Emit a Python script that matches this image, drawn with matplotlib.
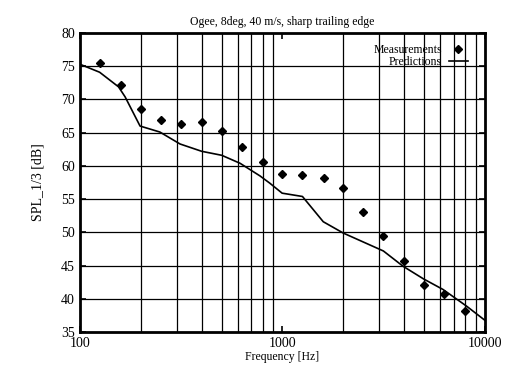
import numpy as np
import matplotlib
matplotlib.use("Agg")
from matplotlib import pyplot as plt
from matplotlib.ticker import FixedLocator, NullFormatter

plt.rcParams['font.family'] = ['Liberation Serif', 'DejaVu Serif']

# measured third-octave levels
meas_f = [125, 160, 200, 250, 315, 400, 500, 630, 800, 1000, 1250, 1600,
          2000, 2500, 3150, 4000, 5000, 6300, 8000]
meas_spl = [75.5, 72.2, 68.5, 66.9, 66.3, 66.6, 65.2, 62.8, 60.6, 58.8, 58.7,
            58.2, 56.7, 53.1, 49.4, 45.7, 42.1, 40.7, 38.2]

# predicted curve
pred_f = [100, 125, 155, 167, 198, 248, 312, 399, 501, 617, 774, 866, 996,
          1255, 1590, 1995, 3150, 3940, 4970, 6210, 8110, 9960]
pred_spl = [75.3, 74.1, 71.9, 70.4, 66.0, 65.1, 63.3, 62.2, 61.6, 60.4, 58.5,
            57.4, 55.9, 55.4, 51.6, 49.9, 47.2, 44.9, 43.0, 41.4, 38.9, 36.8]

fig = plt.figure(figsize=(5.15, 3.71), dpi=100)
ax = fig.add_axes([0.1553, 0.105, 0.7864, 0.806])

ax.plot(pred_f, pred_spl, color="black", lw=1.2, label="Predictions")
ax.plot(meas_f, meas_spl, ls="none", marker="D", ms=4, color="black",
        label="Measurements")

ax.set_xscale("log")
ax.set_xlim(100, 10000)
ax.set_ylim(35, 80)
ax.set_xticks([100, 1000, 10000])
ax.set_xticklabels(["100", "1000", "10000"])
minor = [m * d for d in (100, 1000) for m in range(2, 10)]
ax.xaxis.set_minor_locator(FixedLocator(minor))
ax.xaxis.set_minor_formatter(NullFormatter())
ax.set_yticks(np.arange(35, 81, 5))

for f in minor:
    ax.axvline(f, color="black", lw=0.9, zorder=0)
for v in range(40, 80, 5):
    ax.axhline(v, color="black", lw=0.9, zorder=0)

ax.tick_params(which="both", direction="in", length=4, width=1.2,
               labelsize=10, top=True, right=True)
ax.tick_params(which="minor", length=0)
for s in ax.spines.values():
    s.set_linewidth(2)

ax.set_title("Ogee, 8deg, 40 m/s, sharp trailing edge", fontsize=8.5, pad=6)
ax.set_xlabel("Frequency [Hz]", fontsize=8.5, labelpad=1)
ax.set_ylabel("SPL_1/3 [dB]", fontsize=10, labelpad=12)

h, l = ax.get_legend_handles_labels()
ax.legend(h[::-1], l[::-1], loc="upper right", markerfirst=False,
          frameon=False, fontsize=8.5, handlelength=1.6, labelspacing=0.0,
          borderaxespad=0.3, handletextpad=0.6, bbox_to_anchor=(0.978, 0.99))

fig.savefig("out.png", dpi=100)
